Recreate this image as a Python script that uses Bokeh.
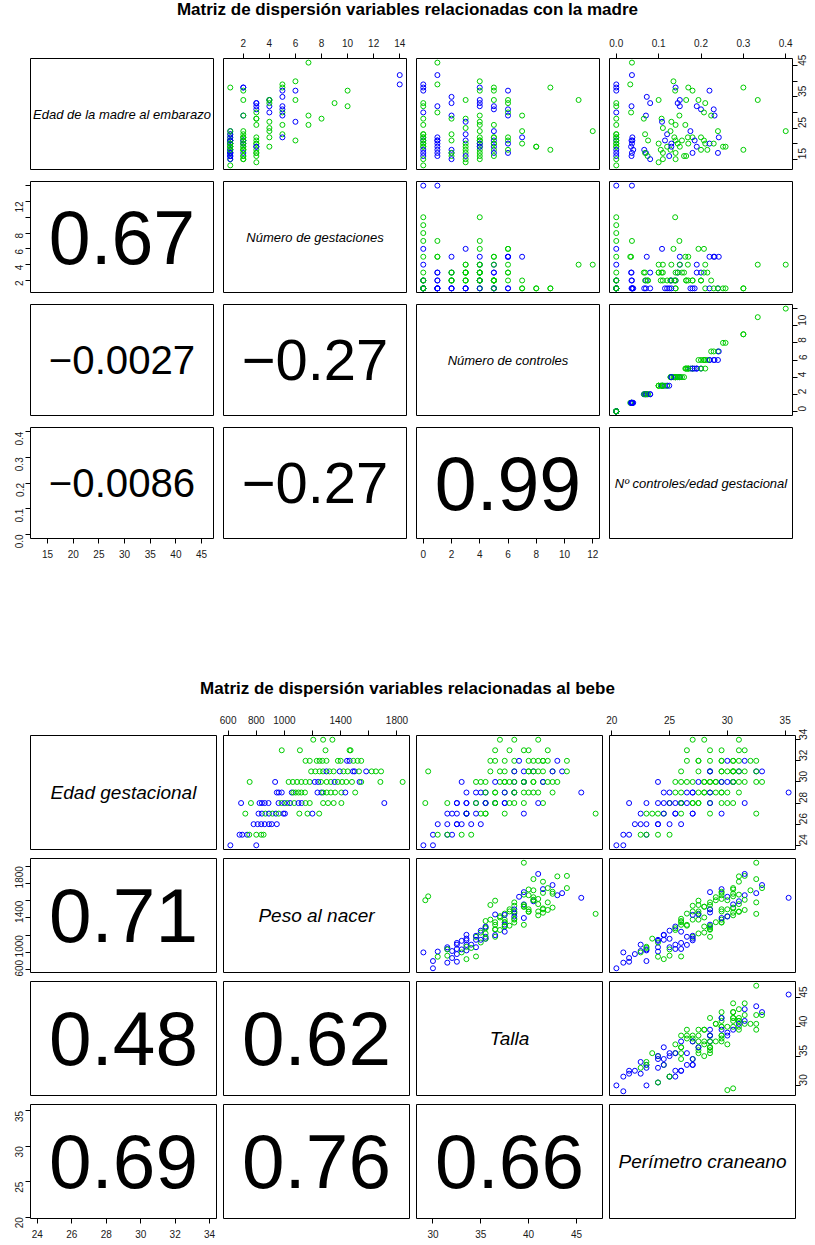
import math
from bokeh.plotting import figure
from bokeh.models import Range1d, LinearAxis, FixedTicker, Div, Spacer, ColumnDataSource
from bokeh.layouts import gridplot, column
from bokeh.embed import file_html
from bokeh.resources import INLINE
from bokeh.core.properties import value

FONT = "Liberation Sans"

# ================= Matrix 1: variables relacionadas con la madre =================
titulo_madre = "Matriz de dispersión variables relacionadas con la madre"
nombres_madre = ["Edad de la madre al embarazo", "Número de gestaciones",
                 "Número de controles", "Nº controles/edad gestacional"]

edad_madre = [39, 38, 37, 33, 32, 30, 28, 26, 23, 23, 22, 22, 21, 21, 20, 20, 19, 19, 18, 17, 16, 15, 13,
              46, 42, 39, 32, 30, 22, 21, 20, 19, 18, 17, 16, 21,
              35, 33, 29, 28, 23, 21, 18, 17, 16, 15, 17,
              34, 28, 27, 25, 23, 21, 20, 19, 18, 17, 16, 15, 14,
              40, 38, 37, 34, 33, 32, 29, 27, 26, 24, 22, 21, 20, 20, 19, 18, 17, 16, 15, 21, 19,
              38, 37, 34, 32, 31, 26, 24, 22, 21, 20, 19, 18, 17, 16, 20, 22,
              37, 34, 33, 31, 30, 29, 22, 21, 17, 20, 18,
              29, 24, 22, 20,
              19, 19,
              38, 18,
              34,
              24]
gestaciones = [14, 2, 6, 9, 10, 4, 8, 7, 5, 1, 3, 1, 2, 1, 2, 1, 1, 2, 1, 1, 1, 1, 1,
               7, 14, 5, 3, 5, 1, 2, 1, 3, 1, 2, 1, 1,
               5, 3, 2, 3, 2, 2, 1, 1, 2, 1, 3,
               4, 3, 6, 4, 1, 1, 3, 2, 2, 3, 1, 2, 3,
               6, 2, 10, 4, 3, 5, 7, 4, 3, 2, 2, 1, 3, 2, 4, 2, 1, 3, 2, 3, 1,
               5, 2, 2, 4, 3, 5, 1, 2, 1, 2, 3, 2, 1, 2, 1, 4,
               5, 6, 4, 5, 3, 5, 2, 6, 1, 1, 3,
               2, 1, 5, 1,
               1, 1,
               1, 1,
               4,
               4]
controles = [0, 0, 0, 0, 0, 0, 0, 0, 0, 0, 0, 0, 0, 0, 0, 0, 0, 0, 0, 0, 0, 0, 0,
             1, 1, 1, 1, 1, 1, 1, 1, 1, 1, 1, 1, 1,
             2, 2, 2, 2, 2, 2, 2, 2, 2, 2, 2,
             3, 3, 3, 3, 3, 3, 3, 3, 3, 3, 3, 3, 3,
             4, 4, 4, 4, 4, 4, 4, 4, 4, 4, 4, 4, 4, 4, 4, 4, 4, 4, 4, 4, 4,
             5, 5, 5, 5, 5, 5, 5, 5, 5, 5, 5, 5, 5, 5, 5, 5,
             6, 6, 6, 6, 6, 6, 6, 6, 6, 6, 6,
             7, 7, 7, 7,
             8, 8,
             9, 9,
             11,
             12]
ctrl_por_eg = [0, 0, 0, 0, 0, 0, 0, 0, 0, 0, 0, 0, 0, 0, 0, 0, 0, 0, 0, 0, 0, 0, 0,
               0.037, 0.037, 0.033, 0.036, 0.035, 0.038, 0.036, 0.037, 0.035, 0.040, 0.037, 0.036, 0.038,
               0.072, 0.080, 0.070, 0.065, 0.068, 0.075, 0.066, 0.070, 0.074, 0.080, 0.068,
               0.100, 0.107, 0.108, 0.110, 0.120, 0.115, 0.100, 0.120, 0.105, 0.110, 0.125, 0.110, 0.100,
               0.135, 0.140, 0.139, 0.150, 0.145, 0.150, 0.149, 0.130, 0.140, 0.128, 0.137, 0.140, 0.145,
               0.130, 0.150, 0.128, 0.140, 0.160, 0.140, 0.155, 0.130,
               0.170, 0.180, 0.165, 0.190, 0.200, 0.163, 0.175, 0.180, 0.185, 0.170, 0.190, 0.200, 0.180,
               0.165, 0.210, 0.169,
               0.220, 0.194, 0.210, 0.230, 0.207, 0.232, 0.200, 0.207, 0.240, 0.220, 0.215,
               0.224, 0.240, 0.242, 0.230,
               0.252, 0.258,
               0.300, 0.300,
               0.334,
               0.400]
grupo_madre = ["b", "b", "b", "g", "g", "b", "g", "g", "g", "g", "g", "g", "b", "g", "g", "g", "g", "g", "b", "b", "b", "g", "g",
               "g", "b", "g", "b", "g", "b", "b", "b", "b", "b", "b", "b", "b",
               "b", "b", "b", "g", "g", "g", "b", "b", "g", "b", "g",
               "g", "g", "b", "g", "b", "b", "g", "g", "g", "g", "b", "g", "g",
               "g", "b", "g", "b", "b", "b", "g", "g", "g", "g", "g", "g", "g", "b", "g", "g", "g", "g", "g", "g", "b",
               "g", "g", "g", "b", "b", "g", "b", "g", "b", "g", "b", "g", "b", "g", "g", "g",
               "b", "g", "g", "b", "g", "b", "g", "g", "b", "b", "g",
               "g", "g", "b", "g",
               "g", "g",
               "g", "g",
               "g",
               "g"]

ticks_madre = [[15, 20, 25, 30, 35, 40, 45], [2, 4, 6, 8, 10, 12, 14],
               [0, 2, 4, 6, 8, 10, 12], [0.0, 0.1, 0.2, 0.3, 0.4]]
etiquetas_madre = [["15", "20", "25", "30", "35", "40", "45"], ["2", "4", "6", "8", "10", "12", "14"],
                   ["0", "2", "4", "6", "8", "10", "12"], ["0.0", "0.1", "0.2", "0.3", "0.4"]]
ocultas_madre = {("right", 0): ["20", "30", "40"], ("left", 1): ["10", "14"], ("right", 2): ["12"]}
cor_madre = ["0.67", "\u22120.0027", "\u22120.27", "\u22120.0086", "\u22120.27", "0.99"]

# ================= Matrix 2: variables relacionadas al bebe =================
titulo_bebe = "Matriz de dispersión variables relacionadas al bebe"
nombres_bebe = ["Edad gestacional", "Peso al nacer", "Talla", "Perímetro craneano"]

edad_gest = [34, 34, 34,
             33, 33, 33, 33, 33,
             32, 32, 32, 32, 32, 32, 32, 32, 32, 32, 32, 32, 32,
             31, 31, 31, 31, 31, 31, 31, 31, 31, 31, 31, 31, 31, 31, 31, 31, 31,
             30, 30, 30, 30, 30, 30, 30, 30, 30, 30, 30, 30, 30, 30, 30, 30, 30, 30, 30, 30, 30, 30,
             29, 29, 29, 29, 29, 29, 29, 29, 29, 29, 29, 29, 29, 29, 29, 29, 29, 29,
             28, 28, 28, 28, 28, 28, 28, 28, 28, 28, 28, 28, 28, 28, 28, 28, 28, 28, 28, 28, 28,
             27, 27, 27, 27, 27, 27, 27, 27, 27, 27, 27, 27, 27, 27,
             26, 26, 26, 26, 26, 26, 26,
             25, 25, 25, 25, 25, 25, 25,
             24, 24]
peso = [1205, 1275, 1341,
        981, 1110, 1292, 1463, 1470,
        1150, 1180, 1230, 1250, 1270, 1299, 1380, 1400, 1445, 1463, 1490, 1520, 1546,
        1190, 1220, 1250, 1275, 1299, 1320, 1350, 1393, 1420, 1450, 1487, 1499, 1530, 1581, 1620, 1650, 1687,
        753, 934, 1030, 1060, 1090, 1120, 1150, 1180, 1216, 1240, 1260, 1300, 1330, 1357, 1380, 1410, 1440,
        1480, 1534, 1546, 1682, 1840,
        946, 960, 981, 1052, 1063, 1080, 1100, 1120, 1146, 1235, 1263, 1275, 1300, 1330, 1360, 1405, 1433, 1503,
        692, 762, 823, 840, 860, 887, 958, 980, 1000, 1020, 1040, 1070, 1100, 1122, 1150, 1180, 1275, 1310,
        1350, 1405, 1710,
        722, 816, 840, 865, 890, 915, 940, 960, 993, 1004, 1106, 1164, 1199, 1247,
        781, 810, 835, 860, 890, 910, 946,
        681, 700, 735, 750, 800, 835, 852,
        616, 800]
talla = [37, 41, 38.5,
         36.5, 38, 42, 40, 39.5,
         37.5, 36, 41, 38.5, 40, 41.5, 42, 36.5, 39, 43, 41.5, 40.5, 44,
         38.5, 37, 37.5, 40, 38.5, 42.5, 36, 40.5, 41, 29.5, 43.5, 39.5, 40, 42.5, 41.5, 40.5, 44,
         34.5, 33, 35, 37, 35.5, 39.5, 37.5, 37.5, 38.5, 36.5, 41.5, 38, 39.5, 39.5, 38.5, 40.5, 40.5, 42.5,
         41.5, 42, 43, 39.5,
         34.5, 33.5, 35.5, 35, 36.5, 35.5, 37.5, 36.5, 38.5, 37.5, 38.5, 38.5, 40, 39.5, 41, 40.5, 45.5, 42.5,
         32.5, 31.5, 33.5, 32.5, 34.5, 33.5, 35.5, 34.5, 36.5, 35.5, 37.5, 36.5, 35.5, 37.5, 36.5, 38.5, 38,
         41.5, 39.5, 29.2, 41,
         33.5, 32, 31.5, 33.5, 32.5, 35, 33.5, 35.5, 34.5, 33.5, 37.5, 35.5, 39.5, 47,
         32.5, 30.5, 33, 31.5, 34, 32.5, 35,
         31.5, 30, 32, 30.5, 33, 31.5, 34,
         30, 29]
perimetro = [28, 31, 27,
             28.5, 26.5, 31.5, 29.5, 31,
             29.5, 27.5, 30.5, 26.5, 31, 28.5, 32.5, 27.5, 30, 31.5, 29.5, 32, 30.5,
             26, 30, 27.5, 29.5, 28.5, 30.5, 28.5, 31, 29.5, 30.5, 32.5, 28.5, 30.5, 33, 31, 32.5, 31.5,
             26, 24, 28, 25.5, 28.5, 26.5, 29, 27, 30, 27.5, 30.5, 29.5, 28, 30.5, 28.5, 31.5, 29, 30.5, 29.5,
             33, 31, 32.5,
             24.5, 27, 26.5, 25, 28.5, 25.5, 28, 26, 29.5, 27, 28.5, 27.5, 30, 28, 31, 29, 35.3, 29.5,
             21.5, 25, 23, 26, 24, 26.5, 25, 27, 24.5, 27.5, 26, 28.5, 25.5, 28.5, 26, 29.5, 27, 30.5, 27.5,
             30, 31.5,
             24.5, 22.5, 25.5, 23, 25.5, 24, 27, 23.5, 27, 24.5, 28.5, 26, 29.5, 32.5,
             22, 24, 23, 25, 22.5, 26, 24,
             21, 23, 21.5, 24, 22.5, 25, 23,
             20.4, 21]
grupo_bebe = ["g", "g", "g",
              "g", "g", "g", "g", "g",
              "g", "g", "g", "g", "g", "g", "g", "g", "b", "b", "g", "g", "g",
              "g", "g", "g", "g", "b", "g", "g", "b", "g", "g", "b", "b", "g", "b", "g", "g", "g",
              "g", "b", "g", "g", "g", "g", "g", "g", "b", "b", "g", "g", "g", "b", "g", "g", "g", "g", "b", "g", "g", "g",
              "b", "b", "b", "b", "g", "g", "g", "g", "g", "b", "b", "g", "g", "g", "g", "g", "b", "g",
              "b", "g", "b", "b", "b", "b", "b", "g", "b", "g", "b", "g", "b", "b", "g", "g", "g", "g", "g", "g", "b",
              "g", "b", "b", "g", "b", "g", "b", "g", "b", "b", "g", "g", "b", "g",
              "b", "b", "b", "b", "b", "b", "b",
              "b", "b", "b", "g", "g", "g", "g",
              "b", "b"]

ticks_bebe = [[24, 26, 28, 30, 32, 34], [600, 800, 1000, 1200, 1400, 1600, 1800],
              [30, 35, 40, 45], [20, 25, 30, 35]]
etiquetas_bebe = [["24", "26", "28", "30", "32", "34"],
                  ["600", "800", "1000", "1200", "1400", "1600", "1800"],
                  ["30", "35", "40", "45"], ["20", "25", "30", "35"]]
ocultas_bebe = {("above", 1): ["1200", "1600"], ("left", 1): ["800", "1200", "1600"]}
cor_bebe = ["0.71", "0.48", "0.62", "0.69", "0.76", "0.66"]

COLORES = {"b": "#0000FF", "g": "#00CC00"}
ADV = {"0": 0.556, "1": 0.556, "2": 0.556, "3": 0.556, "4": 0.556, "5": 0.556,
       "6": 0.556, "7": 0.556, "8": 0.556, "9": 0.556, ".": 0.278, "\u2212": 0.584}


def add_axis(p, side, ticks, labels, hidden, standoff, tick_out):
    overrides = {}
    for t, lab in zip(ticks, labels):
        txt = "" if lab in hidden else lab
        overrides[t] = txt
        overrides[str(t)] = txt
    ax = LinearAxis(ticker=FixedTicker(ticks=ticks, minor_ticks=[]),
                    major_label_overrides=overrides)
    ax.axis_line_color = None
    ax.major_tick_out = tick_out
    ax.major_tick_in = 0
    ax.minor_tick_out = 0
    ax.minor_tick_in = 0
    ax.major_tick_line_color = "black"
    ax.major_label_text_font = FONT
    ax.major_label_text_font_size = "10px"
    ax.major_label_text_color = "#1a1a1a"
    ax.major_label_standoff = standoff
    if side in ("left", "right"):
        ax.major_label_orientation = math.pi / 2
    p.add_layout(ax, side)


def build_matrix(names, cols, grupos, ticks, labels, hidden, cors, fw, fh,
                 bl, br, bt, bb, diag_size, stand):
    n = len(cols)
    colors = [COLORES[g] for g in grupos]
    ranges = []
    for c in cols:
        lo, hi = min(c), max(c)
        pad = 0.04 * (hi - lo)
        ranges.append((lo - pad, hi + pad))
    cor_it = iter(cors)
    rows = []
    for i in range(n):
        row = []
        for j in range(n):
            p = figure(width=fw + bl[j] + br[j], height=fh + bt[i] + bb[i],
                       x_range=Range1d(*ranges[j]), y_range=Range1d(*ranges[i]),
                       x_axis_location=None, y_axis_location=None, tools="",
                       toolbar_location=None, output_backend="svg",
                       min_border_left=bl[j], min_border_right=br[j],
                       min_border_top=bt[i], min_border_bottom=bb[i])
            p.outline_line_color = "black"
            p.outline_line_width = 1
            p.outline_line_alpha = 1
            p.background_fill_color = "white"
            p.border_fill_color = "white"
            p.grid.visible = False
            cx = (ranges[j][0] + ranges[j][1]) / 2
            cy = (ranges[i][0] + ranges[i][1]) / 2
            if i == j:
                p.text(x=[cx], y=[cy], text=[names[i]], text_align="center",
                       text_baseline="middle", text_font=value(FONT),
                       text_font_style="italic", text_font_size=value(diag_size),
                       text_color="black")
            elif i > j:
                txt = next(cor_it)
                size = 0.8 * fw / sum(ADV.get(ch, 0.556) for ch in txt)
                p.text(x=[cx], y=[cy], text=[txt], text_align="center",
                       text_baseline="middle", text_font=value(FONT),
                       text_font_size=value(f"{size:.1f}px"), text_color="black")
            else:
                src = ColumnDataSource(dict(x=cols[j], y=cols[i], c=colors))
                p.scatter(x="x", y="y", source=src, marker="circle", size=5,
                          fill_color=None, line_color="c", line_width=1)
            # axes placed as in R pairs()
            if i == 0 and j % 2 == 1:
                add_axis(p, "above", ticks[j], labels[j], hidden.get(("above", j), []), stand["above"], 5)
            if i == n - 1 and j % 2 == 0:
                add_axis(p, "below", ticks[j], labels[j], hidden.get(("below", j), []), stand["below"], 5)
            if j == 0 and i % 2 == 1:
                add_axis(p, "left", ticks[i], labels[i], hidden.get(("left", i), []), stand["left"], 5)
            if j == n - 1 and i % 2 == 0:
                add_axis(p, "right", ticks[i], labels[i], hidden.get(("right", i), []), stand["right"], 5)
            row.append(p)
        rows.append(row)
    return gridplot(rows, toolbar_location=None)


def title_div(txt):
    return Div(text=txt, width=815, height=20, margin=(0, 0, 0, 0),
               styles={"font-family": FONT, "font-weight": "bold", "font-size": "17px",
                       "line-height": "20px", "text-align": "center",
                       "white-space": "nowrap", "color": "black"})


g1 = build_matrix(nombres_madre, [edad_madre, gestaciones, controles, ctrl_por_eg], grupo_madre,
                  ticks_madre, etiquetas_madre, ocultas_madre, cor_madre,
                  183, 111, [30, 5, 5, 5], [5, 5, 5, 23], [38, 6, 6, 6], [6, 6, 6, 26],
                  "13px", {"above": 7, "below": 6, "left": 6, "right": 5})
g2 = build_matrix(nombres_bebe, [edad_gest, peso, talla, perimetro], grupo_bebe,
                  ticks_bebe, etiquetas_bebe, ocultas_bebe, cor_bebe,
                  186, 114, [30, 4, 4, 4], [3, 3, 3, 20], [36, 5, 5, 5], [4, 4, 4, 23],
                  "19px", {"above": 7, "below": 6, "left": 6, "right": 3})

layout = column(title_div(titulo_madre), g1,
                Spacer(width=815, height=115, margin=(0, 0, 0, 0)),
                title_div(titulo_bebe), g2, spacing=0)

open("out.html", "w").write(file_html(layout, INLINE))
